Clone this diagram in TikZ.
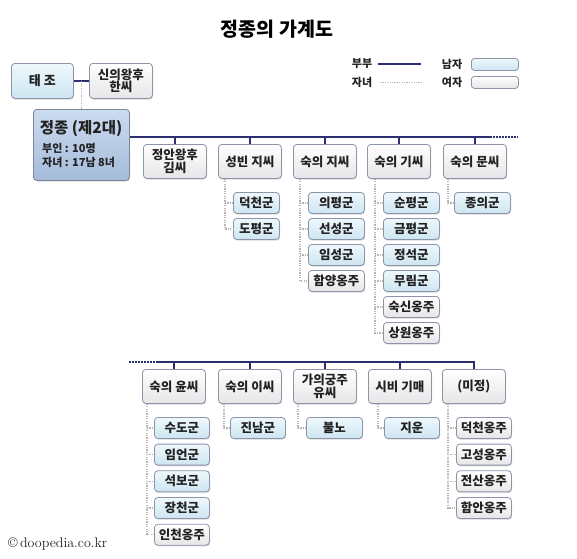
\documentclass[tikz,border=0pt]{standalone}
\usepackage{fontspec}
\newfontfamily\kr{Noto Sans CJK KR}
\usetikzlibrary{calc,shadows}
\definecolor{navy}{HTML}{2C2F6E}
\definecolor{bord}{HTML}{8C94AA}
\definecolor{mtop}{HTML}{EEF8FC}
\definecolor{mbot}{HTML}{CDE5F1}
\definecolor{fbot}{HTML}{E6E6E8}
\definecolor{jtop}{HTML}{CCDCF0}
\definecolor{jbot}{HTML}{A5BBDA}
\definecolor{cgray}{HTML}{B4B4B4}
\definecolor{txt}{HTML}{222222}
\begin{document}
\begin{tikzpicture}[x=1pt,y=-1pt,
  box/.style={draw=bord, line width=0.8pt, rounded corners=3.5pt, inner sep=0pt,
    anchor=north west, text=txt, align=center,
    font=\kr\bfseries\fontsize{12.5}{12.5}\selectfont,
    drop shadow={shadow xshift=0.8pt, shadow yshift=-1.2pt, fill=black, opacity=0.15}},
  wife/.style={box, top color=white, bottom color=fbot, minimum width=63pt, minimum height=34pt},
  male/.style={box, top color=mtop, bottom color=mbot, minimum width=56pt, minimum height=21pt},
  female/.style={box, top color=white, bottom color=fbot, minimum width=56pt, minimum height=21pt},
  spouse/.style={draw=navy, line width=2.2pt},
  child/.style={draw=cgray, line width=1.2pt, dash pattern=on 1.2pt off 1.2pt},
  leg/.style={font=\kr\bfseries\fontsize{11}{12}\selectfont, text=txt, inner sep=0pt},
  legbox/.style={draw=bord, line width=0.8pt, rounded corners=3pt, inner sep=0pt, anchor=north west,
    minimum width=47pt, minimum height=12pt}
]
\useasboundingbox[fill=white] (0,0) rectangle (577,558);

% title
\node[font=\kr\bfseries\fontsize{19.5}{20}\selectfont, text=black] (title) at (277,29) {정종의 가계도};

% legend
\node[leg] (lbubu) at (362,64) {부부};
\coordinate (l1a) at (378,64); \coordinate (l1b) at (421,64);
\draw[spouse] (l1a) -- (l1b);
\node[leg] (ljanyeo) at (362,82) {자녀};
\coordinate (l2a) at (380,82); \coordinate (l2b) at (421,82);
\draw[child, line width=0.8pt] (l2a) -- (l2b);
\node[leg] (lnam) at (452,64) {남자};
\node[legbox, top color=mtop, bottom color=mbot] (lmbox) at (471,58) {};
\node[leg] (lyeo) at (452,82) {여자};
\node[legbox, top color=white, bottom color=fbot] (lfbox) at (471,76) {};

% top generation
\node[male, minimum width=62pt, minimum height=35pt, font=\kr\bfseries\fontsize{13}{14}\selectfont] (taejo) at (11,63) {태 조};
\node[wife, minimum height=35pt] (sinui) at (89,63) {신의왕후\\한씨};
\draw[spouse] (taejo.east) -- (sinui.west);
\coordinate (tm) at ($(taejo.east)!0.5!(sinui.west)$);

% Jeongjong
\node[box, top color=jtop, bottom color=jbot, draw=bord!90!black, minimum width=96pt, minimum height=71pt] (jj) at (33,109) {};
\draw[child] (tm) -- (jj.north);
\node[font=\kr\bfseries\fontsize{15.5}{16}\selectfont, text=txt] (jjname) at (81,129) {정종 (제2대)};
\node[leg, anchor=west] (jjwife) at (42,148) {부인 : 10명};
\node[leg, anchor=west] (jjkids) at (42,162) {자녀 : 17남 8녀};

% first row of wives
\coordinate (m1) at (490,137);
\coordinate (m1e) at (518,137);
\draw[spouse] (jj.east |- m1) -- (m1);
\draw[draw=navy, line width=2.2pt, dash pattern=on 1.5pt off 1.5pt] (m1) -- (m1e);

\node[wife] (w1) at (143,144) {정안왕후\\김씨};
\node[wife] (w2) at (218,144) {성빈 지씨};
\node[wife] (w3) at (293,144) {숙의 지씨};
\node[wife] (w4) at (367,144) {숙의 기씨};
\node[wife] (w5) at (443,144) {숙의 문씨};
\foreach \w in {w1,w2,w3,w4,w5} \draw[spouse] (\w.north |- m1) -- (\w.north);

% children row 1
\node[male, minimum width=46pt] (c21) at (233,192) {덕천군};
\node[male, minimum width=46pt] (c22) at (233,218) {도평군};

\node[male] (c31) at (308,192) {의평군};
\node[male] (c32) at (308,218) {선성군};
\node[male] (c33) at (308,244) {임성군};
\node[female] (c34) at (308,270) {함양옹주};

\node[male] (c41) at (383,192) {순평군};
\node[male] (c42) at (383,218) {금평군};
\node[male] (c43) at (383,244) {정석군};
\node[male] (c44) at (383,270) {무림군};
\node[female] (c45) at (383,296) {숙신옹주};
\node[female] (c46) at (383,322) {상원옹주};

\node[male] (c51) at (454,192) {종의군};

\coordinate (t2) at ([xshift=7pt]w2.south west);
\draw[child] (t2) |- (c22.west);
\draw[child] (t2 |- c21.west) -- (c21.west);
\coordinate (t3) at ([xshift=7pt]w3.south west);
\draw[child] (t3) |- (c34.west);
\foreach \c in {c31,c32,c33} \draw[child] (t3 |- \c.west) -- (\c.west);
\coordinate (t4) at ([xshift=8pt]w4.south west);
\draw[child] (t4) |- (c46.west);
\foreach \c in {c41,c42,c43,c44,c45} \draw[child] (t4 |- \c.west) -- (\c.west);
\coordinate (t5) at ([xshift=5pt]w5.south west);
\draw[child] (t5) |- (c51.west);

% second row of wives
\coordinate (r2a) at (129,362);
\coordinate (r2b) at (158,362);
\draw[draw=navy, line width=2.2pt, dash pattern=on 1.5pt off 1.5pt] (r2a) -- (r2b);

\node[wife] (v1) at (142,369) {숙의 윤씨};
\node[wife] (v2) at (218,369) {숙의 이씨};
\node[wife] (v3) at (293,369) {가의궁주\\유씨};
\node[wife] (v4) at (368,369) {시비 기매};
\node[wife] (v5) at (442,369) {(미정)};
\draw[spouse] (r2b) -- (r2b -| v5.north) -- (v5.north);
\foreach \w in {v1,v2,v3,v4} \draw[spouse] (\w.north |- r2b) -- (\w.north);

% children row 2
\node[male, minimum width=55pt] (d11) at (154,417) {수도군};
\node[male, minimum width=55pt] (d12) at (154,443.7) {임언군};
\node[male, minimum width=55pt] (d13) at (154,470.4) {석보군};
\node[male, minimum width=55pt] (d14) at (154,497.1) {장천군};
\node[female, minimum width=55pt] (d15) at (154,523.8) {인천옹주};

\node[male, minimum width=55pt] (d21) at (230,417) {진남군};
\node[male, minimum width=56pt] (d31) at (306,417) {불노};
\node[male, minimum width=55pt] (d41) at (384,417) {지운};

\node[female, minimum width=55pt] (d51) at (456,417) {덕천옹주};
\node[female, minimum width=55pt] (d52) at (456,443.7) {고성옹주};
\node[female, minimum width=55pt] (d53) at (456,470.4) {전산옹주};
\node[female, minimum width=55pt] (d54) at (456,497.1) {함안옹주};

\coordinate (s1) at ([xshift=5pt]v1.south west);
\draw[child] (s1) |- (d15.west);
\foreach \c in {d11,d12,d13,d14} \draw[child] (s1 |- \c.west) -- (\c.west);
\coordinate (s2) at ([xshift=6pt]v2.south west);
\draw[child] (s2) |- (d21.west);
\coordinate (s3) at ([xshift=5pt]v3.south west);
\draw[child] (s3) |- (d31.west);
\coordinate (s4) at ([xshift=10pt]v4.south west);
\draw[child] (s4) |- (d41.west);
\coordinate (s5) at ([xshift=6pt]v5.south west);
\draw[child] (s5) |- (d54.west);
\foreach \c in {d51,d52,d53} \draw[child] (s5 |- \c.west) -- (\c.west);

% copyright
\node[anchor=west, inner sep=0pt, font=\fontsize{14}{15}\selectfont, text=txt] (copy) at (8,544) {\textcopyright\,doopedia.co.kr};
\end{tikzpicture}
\end{document}
